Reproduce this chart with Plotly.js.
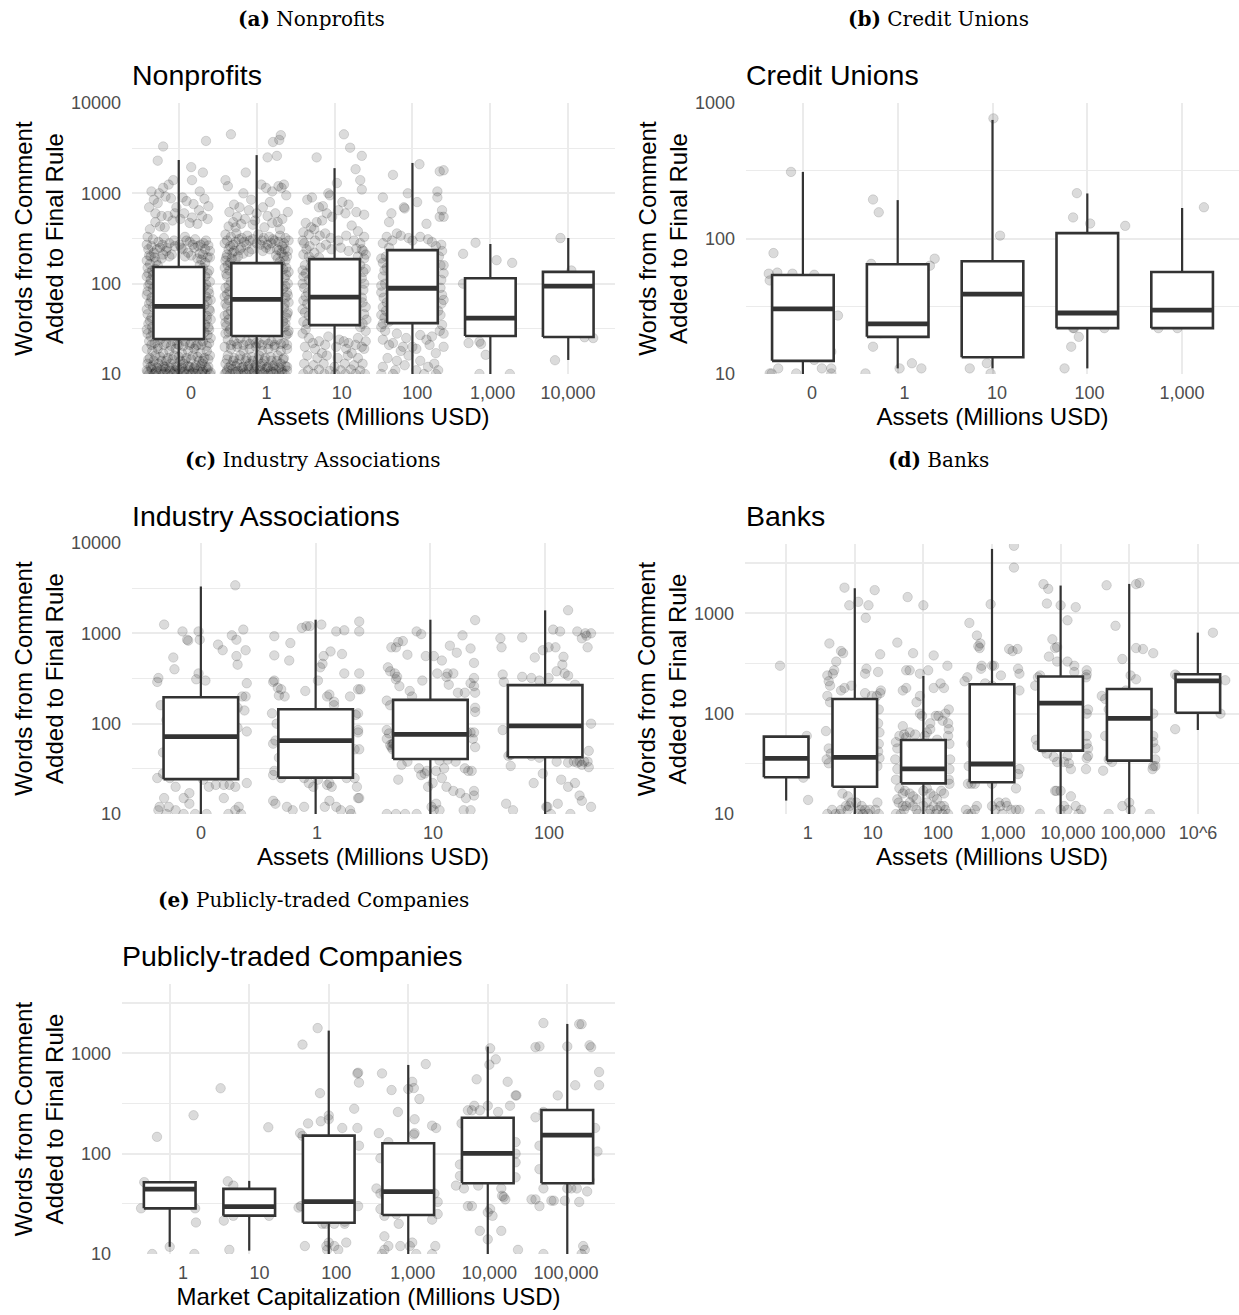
<!DOCTYPE html>
<html><head><meta charset="utf-8">
<script src="https://cdn.plot.ly/plotly-3.0.1.min.js"></script>
<style>html,body{margin:0;padding:0;background:#fff}#chart{width:1239px;height:1315px}</style>
</head><body><div id="chart"></div>
<script>
// ---------------- (a) Nonprofits ----------------
const npCategories = ['0','1','10','100','1,000','10,000'];
const npQ1     = [24.3, 26.3, 34.8, 36.6, 26.3, 25.7];
const npMedian = [56, 67, 71, 89, 41.5, 94];
const npQ3     = [153, 169, 187, 235, 115, 135];
const npLower  = [10, 10, 10, 10, 10, 14.3];
const npUpper  = [2340, 2650, 1900, 2170, 275, 320];
const npPoints0 = [[-0.20,3300],[0.35,3800],[-0.27,2300],[0.16,1950],[0.31,1700],[0.17,1400],[0.27,1050],[-0.07,1400],[-0.13,1250],[-0.2,1150],[-0.25,1000],[-0.35,1050],[-0.32,850],[-0.27,780],[-0.22,560],[-0.3,600],[-0.17,920],[-0.1,880],[-0.03,700],[0.05,900],[0.1,820],[0.19,760],[0.26,650],[0.33,870],[0.37,520],[0.24,460],[0.14,470],[0.02,520],[-0.05,600],[-0.18,420],[-0.37,400],[-0.4,330],[-0.33,310],[-0.26,290],[-0.19,320],[-0.12,280],[-0.06,300],[0.01,270],[0.08,330],[0.14,290],[0.21,310],[0.28,270],[0.35,300],[0.4,230],[-0.39,240],[-0.32,220],[-0.24,250],[-0.16,230],[-0.09,210],[0.05,240],[0.12,220],[0.2,250],[0.27,215],[0.34,240],[-0.41,180],[-0.36,200],[-0.29,175],[-0.22,190],[0.29,185],[0.37,195],[-0.4,150],[-0.34,140],[-0.27,160],[0.31,150],[0.39,140],[-0.41,120],[-0.36,110],[0.34,120],[0.4,105],[-0.39,95],[-0.33,88],[0.32,92],[0.38,85],[-0.41,75],[-0.35,70],[0.35,72],[0.41,66],[-0.38,60],[-0.33,55],[0.33,58],[0.39,52],[-0.4,46],[-0.35,42],[0.36,44],[0.41,40],[-0.39,36],[-0.34,33],[0.34,35],[0.39,31],[-0.4,28],[-0.36,26],[0.37,27],[0.41,25],[-0.38,23],[-0.31,22],[-0.24,24],[-0.16,22],[-0.08,23],[0.0,21],[0.08,23],[0.16,22],[0.24,21],[0.31,23],[0.39,22],[-0.41,19],[-0.34,18],[-0.27,19],[-0.2,17],[-0.12,18],[-0.04,19],[0.04,17],[0.12,18],[0.2,19],[0.28,17],[0.36,18],[-0.37,15],[-0.3,16],[-0.22,14],[-0.14,15],[-0.06,16],[0.02,14],[0.1,15],[0.18,16],[0.26,14],[0.33,15],[0.4,16],[-0.4,13],[-0.33,12.5],[-0.26,13],[-0.18,12],[-0.1,13],[-0.02,12],[0.06,13],[0.14,12],[0.22,12.5],[0.3,13],[0.38,12],[-0.41,11],[-0.35,11.2],[-0.29,10.8],[-0.23,11],[-0.17,11.3],[-0.11,10.9],[-0.05,11],[0.01,11.2],[0.07,10.8],[0.13,11],[0.19,11.3],[0.25,10.9],[0.31,11],[0.37,11.2],[-0.38,10],[-0.32,10],[-0.26,10],[-0.2,10],[-0.14,10],[-0.08,10],[-0.02,10],[0.04,10],[0.1,10],[0.16,10],[0.22,10],[0.28,10],[0.34,10],[0.4,10],
  [-0.38,700],[-0.3,480],[-0.24,430],[-0.14,560],[-0.08,500],[0.07,600],[0.17,540],[0.3,560],[0.38,720],[-0.41,270],[-0.35,260],[-0.28,240],[-0.21,270],[-0.15,250],[-0.05,260],[0.03,250],[0.1,300],[0.18,270],[0.25,260],[0.32,280],[0.38,265],[-0.38,205],[-0.31,195],[-0.2,210],[-0.12,200],[0.08,200],[0.16,205],[0.24,190],[0.31,210],[0.4,195],[-0.37,165],[-0.3,145],[0.27,160],[0.34,170],[-0.39,130],[-0.33,125],[0.37,130],[-0.37,100],[0.35,98],[-0.4,82],[0.39,78],[-0.36,64],[0.37,64],[-0.41,52],[0.4,50],[-0.37,39],[0.36,40],[-0.41,31],[0.38,33],[-0.33,29],[0.33,29],[-0.35,21],[-0.27,20.5],[-0.19,21],[-0.1,20.5],[-0.02,21.5],[0.06,20.5],[0.14,21],[0.22,20.5],[0.29,21],[0.36,20.5],[-0.39,14.5],[-0.32,14],[-0.24,15.5],[-0.16,14],[-0.08,14.5],[0.0,15.5],[0.08,14],[0.16,14.5],[0.24,15.5],[0.31,14],[0.38,14.5],[-0.36,12],[-0.28,11.8],[-0.2,12.2],[-0.12,11.8],[-0.04,12.2],[0.04,11.8],[0.12,12.2],[0.2,11.8],[0.28,12.2],[0.35,11.8],[-0.4,10.5],[-0.3,10.4],[-0.18,10.5],[-0.06,10.4],[0.06,10.5],[0.18,10.4],[0.3,10.5],[0.41,10.4]];
const npPoints1 = [[-0.33,4500],[0.21,3700],[0.31,4400],[0.29,3900],[0.26,2600],[0.14,2500],[-0.14,1700],[-0.4,1400],[-0.37,1200],[0.06,1250],[0.12,1150],[0.28,1200],[0.35,1250],[0.32,1150],[-0.17,1000],[0.2,1050],[0.17,800],[-0.07,850],[-0.29,750],[-0.22,700],[-0.25,550],[-0.1,650],[0.0,600],[0.08,700],[0.24,600],[0.38,950],[0.33,520],[-0.36,430],[-0.3,480],[-0.2,460],[-0.05,450],[0.1,420],[0.2,470],[0.3,400],[-0.4,350],[-0.33,330],[-0.26,360],[-0.19,320],[-0.12,340],[-0.05,310],[0.02,350],[0.09,320],[0.16,330],[0.23,300],[0.3,340],[0.37,320],[-0.41,280],[-0.34,260],[-0.27,290],[-0.2,250],[-0.13,270],[-0.06,240],[0.05,270],[0.12,250],[0.19,280],[0.26,240],[0.33,260],[0.4,230],[-0.38,210],[-0.31,220],[-0.24,200],[-0.17,215],[0.25,205],[0.32,220],[0.39,200],[-0.4,180],[-0.34,170],[-0.27,185],[0.3,175],[0.37,180],[-0.41,150],[-0.35,140],[0.34,145],[0.41,135],[-0.38,120],[-0.33,105],[0.36,115],[0.4,100],[-0.4,90],[-0.35,82],[0.34,88],[0.39,80],[-0.41,72],[-0.36,66],[0.37,70],[0.41,62],[-0.38,56],[-0.33,50],[0.35,54],[0.4,48],[-0.41,44],[-0.36,40],[0.38,42],[0.34,38],[-0.39,34],[-0.34,31],[0.36,33],[0.41,30],[-0.4,28],[0.38,27],[-0.37,24],[-0.29,23],[-0.21,25],[-0.13,23],[-0.05,24],[0.03,22],[0.11,24],[0.19,23],[0.27,24],[0.35,22],[-0.41,20],[-0.33,19],[-0.25,20],[-0.17,18],[-0.09,19],[-0.01,20],[0.07,18],[0.15,19],[0.23,20],[0.31,18],[0.39,19],[-0.37,16],[-0.29,15],[-0.21,16],[-0.13,15],[-0.05,14],[0.03,16],[0.11,15],[0.19,14],[0.27,16],[0.35,15],[-0.4,13],[-0.33,12.5],[-0.25,13],[-0.17,12],[-0.09,13],[-0.01,12.5],[0.07,13],[0.15,12],[0.23,12.5],[0.31,13],[0.39,12],[-0.38,11],[-0.31,11.3],[-0.24,10.8],[-0.17,11],[-0.1,11.2],[-0.03,10.9],[0.04,11],[0.11,11.3],[0.18,10.8],[0.25,11],[0.32,11.2],[0.39,10.9],[-0.41,10],[-0.34,10],[-0.27,10],[-0.2,10],[-0.13,10],[-0.06,10],[0.01,10],[0.08,10],[0.15,10],[0.22,10],[0.29,10],[0.36,10],
  [-0.35,620],[-0.27,420],[-0.15,520],[-0.02,500],[0.14,560],[0.27,480],[0.4,620],[-0.38,300],[-0.3,270],[-0.23,310],[-0.16,290],[-0.09,300],[0.0,280],[0.07,300],[0.14,270],[0.21,310],[0.28,290],[0.35,280],[0.41,300],[-0.36,240],[-0.29,230],[-0.22,235],[-0.1,225],[0.08,230],[0.17,240],[0.29,235],[0.36,240],[-0.39,195],[-0.32,190],[0.27,190],[0.35,200],[-0.37,160],[-0.3,155],[0.31,160],[0.38,150],[-0.39,128],[0.38,125],[-0.36,95],[0.37,94],[-0.38,76],[0.4,74],[-0.4,60],[0.36,60],[-0.37,46],[0.39,46],[-0.4,37],[0.37,36],[-0.36,29],[0.4,28],[-0.33,21],[-0.25,21.5],[-0.17,21],[-0.09,21.5],[-0.01,22],[0.07,21],[0.15,21.5],[0.23,21],[0.31,21.5],[0.39,21],[-0.38,14.5],[-0.3,14],[-0.22,14.5],[-0.14,14],[-0.06,15.5],[0.02,14.5],[0.1,14],[0.18,15.5],[0.26,14],[0.34,14.5],[-0.36,11.8],[-0.27,12.2],[-0.19,11.8],[-0.11,12.2],[-0.03,11.8],[0.05,12.2],[0.13,11.8],[0.21,12.2],[0.29,11.8],[0.37,12.2],[-0.39,10.4],[-0.27,10.5],[-0.15,10.4],[-0.03,10.5],[0.09,10.4],[0.21,10.5],[0.33,10.4]];
const npPoints2 = [[0.12,4500],[0.2,3200],[-0.23,2500],[0.35,2600],[0.27,1850],[0.03,1300],[0.33,1400],[0.35,1100],[-0.06,950],[-0.08,1000],[-0.35,850],[-0.29,900],[-0.2,700],[-0.15,720],[0.1,800],[0.18,750],[0.28,620],[0.38,580],[0.14,600],[-0.1,600],[-0.03,550],[0.05,650],[-0.37,470],[-0.3,420],[-0.23,480],[-0.16,500],[0.22,440],[0.3,380],[0.38,330],[-0.4,370],[-0.33,350],[-0.26,400],[-0.19,340],[-0.12,360],[-0.05,320],[0.05,300],[0.15,340],[0.25,300],[0.33,280],[-0.39,280],[-0.32,260],[-0.25,300],[-0.18,250],[-0.11,270],[-0.04,240],[0.08,250],[0.18,230],[0.28,245],[0.37,230],[-0.4,210],[-0.33,200],[-0.26,220],[-0.2,195],[0.3,200],[0.38,190],[-0.38,160],[-0.31,150],[0.33,160],[0.4,145],[-0.4,120],[-0.33,110],[0.35,115],[-0.39,90],[-0.34,80],[0.37,85],[-0.4,65],[-0.35,60],[0.36,62],[0.4,55],[-0.38,48],[-0.33,44],[0.38,46],[-0.4,38],[0.36,36],[-0.37,31],[0.4,30],[-0.33,25],[-0.2,23],[-0.08,26],[0.06,24],[0.18,22],[0.3,25],[0.4,23],[-0.38,20],[-0.25,19],[-0.12,21],[0.02,20],[0.15,19],[0.27,21],[0.38,19],[-0.35,16],[-0.22,15],[-0.1,16],[0.04,15],[0.17,16],[0.3,15],[-0.39,13],[-0.27,12.5],[-0.14,13],[0.0,12],[0.13,13],[0.25,12.5],[0.36,13],[-0.34,11],[-0.2,11.2],[-0.06,10.8],[0.08,11],[0.21,11.2],[0.33,10.9],[-0.4,10],[-0.27,10],[-0.13,10],[0.01,10],[0.14,10],[0.27,10],[0.39,10],
  [-0.41,300],[-0.36,240],[-0.3,180],[0.35,240],[0.4,210],[-0.41,140],[-0.37,130],[0.37,135],[-0.41,100],[-0.37,72],[0.38,100],[0.35,70],[-0.41,52],[0.41,40],[-0.35,36],[0.33,33],[-0.41,28],[-0.28,22],[0.12,23],[0.35,20],[-0.16,17],[0.22,17]];
const npPoints3 = [[0.09,2100],[-0.25,1600],[0.35,1750],[0.4,1800],[-0.06,1000],[0.32,1050],[-0.38,900],[0.32,900],[0.06,800],[-0.11,700],[-0.1,680],[-0.27,600],[0.35,550],[0.38,650],[0.4,550],[-0.3,480],[0.18,460],[-0.2,360],[-0.15,340],[-0.05,320],[0.0,300],[0.1,330],[0.2,310],[0.25,290],[-0.38,280],[-0.3,250],[-0.34,200],[0.37,270],[0.38,230],[-0.38,170],[-0.36,140],[0.36,160],[0.4,130],[-0.38,120],[-0.35,100],[0.37,110],[-0.4,80],[-0.37,70],[0.38,75],[-0.38,55],[0.37,60],[-0.4,45],[-0.36,42],[0.36,45],[-0.38,36],[-0.3,38],[0.38,35],[-0.35,30],[0.4,28],[-0.2,28],[-0.38,24],[-0.08,25],[0.1,27],[0.25,26],[-0.25,22],[0.0,20],[0.22,21],[-0.15,18],[0.05,19],[0.3,17],[0.4,20],[-0.32,15],[-0.2,14],[-0.05,16],[0.1,14],[0.28,13],[-0.38,12],[-0.22,11],[-0.1,12.5],[0.05,11],[0.2,12],[0.33,11],[-0.4,10],[-0.25,10],[0.15,10],[0.3,10],
  [-0.33,330],[-0.26,300],[0.3,260],[-0.4,190],[0.34,200],[-0.33,150],[0.4,160],[-0.4,95],[0.36,90],[-0.33,62],[0.4,66],[-0.34,50],[0.33,50],[-0.4,33],[0.35,30],[-0.3,21],[0.18,24],[-0.12,20]];
const npPoints4 = [[-0.19,284],[-0.35,214],[0.08,182],[0.28,170],[-0.35,100],[-0.14,22.8],[-0.12,21.5],[-0.28,22],[-0.06,16.3],[-0.14,10],[0.25,10]];
const npPoints5 = [[-0.1,320],[0.04,140],[0.21,25.5],[0.32,25],[-0.17,14.2]];

// ---------------- (b) Credit Unions ----------------
const cuCategories = ['0','1','10','100','1,000'];
const cuQ1     = [12.5, 18.8, 13.3, 21.8, 21.8];
const cuMedian = [30.2, 23.4, 38.9, 28.2, 29.6];
const cuQ3     = [53.8, 64.6, 68, 109.6, 56.6];
const cuLower  = [10, 11, 11, 11, 21.8];
const cuUpper  = [310, 192, 750, 215, 168];
const cuPoints0 = [[-0.125,310],[-0.31,78],[-0.36,55],[-0.27,56],[-0.11,55],[0.12,54],[-0.35,49],[0.37,27],[0.21,14.6],[0.3,14.6],[0.12,12.7],[-0.26,11],[0.2,11],[0.3,11],[-0.35,10.1],[-0.07,10.1],[0.3,10.1],[-0.33,10.1]];
const cuPoints1 = [[-0.26,194],[-0.2,156],[-0.28,65],[0.34,63],[0.39,71],[-0.26,15.9],[-0.18,20],[0.02,11],[0.15,12],[0.25,11],[-0.34,10.1]];
const cuPoints2 = [[0.01,770],[0.08,105],[-0.24,11],[-0.06,12],[-0.02,10.1]];
const cuPoints3 = [[-0.11,216],[-0.15,143],[0.03,129],[0.4,124],[-0.15,21.8],[-0.14,21.8],[0.18,21.8],[-0.09,18.8],[-0.17,15.9],[-0.24,11]];
const cuPoints4 = [[0.23,170],[-0.25,21.8],[-0.05,21.8]];

// ---------------- (c) Industry Associations ----------------
const iaCategories = ['0','1','10','100'];
const iaQ1     = [24.3, 25.3, 40.7, 42.5];
const iaMedian = [72, 65, 76, 94.6];
const iaQ3     = [196, 144.6, 183.5, 267];
const iaLower  = [10, 10, 10, 10];
const iaUpper  = [3300, 1415, 1415, 1795];
const iaPoints0 = [[0.3,3400],[-0.32,1250],[-0.24,540],[-0.23,400],[-0.16,1050],[-0.12,850],[-0.11,830],[-0.02,1050],[-0.01,850],[0.15,750],[0.19,650],[0.27,950],[0.31,850],[0.31,560],[0.32,450],[0.37,1100],[0.39,650],[-0.37,320],[-0.38,290],[-0.02,360],[-0.04,310],[0.04,300],[0.4,280],[0.36,200],[0.39,200],[-0.35,160],[0.32,150],[0.38,140],[-0.28,130],[-0.3,110],[0.4,82],[0.32,90],[-0.33,48],[-0.28,30],[-0.33,28],[-0.38,25],[-0.27,25],[0.02,24],[-0.22,20],[0.07,20],[0.13,21],[0.2,21],[0.25,21],[0.3,20],[0.4,22],[-0.1,17],[-0.15,15],[-0.1,13],[-0.32,15],[-0.28,12],[0.2,15],[-0.37,11],[-0.36,12],[-0.22,11],[-0.15,10],[-0.05,10],[0.05,10],[0.3,11],[0.33,12],[0.35,10],[0.24,10],[-0.3,10]];
const iaPoints1 = [[-0.36,930],[-0.36,570],[-0.22,780],[-0.23,500],[-0.12,1150],[-0.08,1200],[-0.05,1200],[0.05,1250],[0.18,1050],[0.25,1080],[0.38,1350],[0.38,1050],[0.23,590],[0.13,630],[0.07,560],[0.06,460],[0.04,420],[0.02,300],[0.25,360],[0.38,360],[-0.37,290],[-0.36,300],[-0.33,250],[-0.3,240],[-0.27,200],[-0.32,205],[-0.09,230],[0.1,200],[0.12,210],[0.3,200],[0.37,240],[0.39,240],[-0.38,130],[-0.34,100],[0.16,160],[0.16,175],[0.35,125],[0.37,130],[0.37,80],[0.37,85],[0.34,52],[0.38,52],[-0.35,65],[-0.37,60],[-0.32,42],[-0.36,30],[-0.37,27],[-0.3,25],[-0.1,25],[-0.06,22],[-0.02,20],[0.02,24],[0.1,21],[0.12,22],[0.14,20],[0.27,25],[0.34,25],[0.36,20],[-0.37,14],[-0.35,13],[-0.25,12],[-0.2,11],[-0.1,12],[0.08,12],[0.12,14],[0.18,12],[0.22,11],[0.3,11],[0.37,15],[0.38,15],[0.31,10]];
const iaPoints2 = [[-0.34,700],[-0.3,700],[-0.28,800],[-0.24,820],[-0.2,580],[-0.12,1050],[-0.08,980],[-0.04,560],[0.03,560],[0.1,500],[0.17,730],[0.23,610],[0.28,950],[0.39,1400],[0.35,680],[0.38,470],[-0.37,420],[-0.35,380],[-0.3,310],[-0.29,330],[-0.31,360],[-0.27,260],[-0.18,230],[-0.16,200],[-0.07,300],[0.06,360],[0.14,330],[0.15,360],[0.16,270],[0.2,360],[0.24,220],[0.3,220],[0.35,280],[0.38,320],[0.38,260],[0.39,220],[0.39,150],[0.39,135],[-0.38,180],[-0.35,160],[-0.38,85],[-0.36,78],[-0.38,68],[-0.33,60],[-0.34,55],[-0.32,60],[-0.33,52],[-0.35,58],[-0.3,78],[0.32,80],[0.35,80],[0.38,80],[0.37,68],[0.39,55],[-0.25,35],[-0.2,38],[-0.1,32],[-0.05,28],[-0.03,30],[0.05,30],[0.08,39],[0.12,32],[0.15,40],[0.22,38],[0.3,32],[0.33,30],[0.36,30],[-0.28,24],[-0.08,27],[-0.02,20],[0.02,22],[0.1,25],[0.14,20],[0.2,18],[0.26,17],[0.31,15],[0.38,16],[0.38,18],[0.05,13],[0.01,12],[0.03,11],[0.08,11],[-0.12,10],[0.35,11],[0.29,11],[-0.22,10],[-0.3,10],[-0.38,10]];
const iaPoints3 = [[-0.39,880],[-0.38,700],[-0.2,900],[-0.09,540],[-0.02,650],[0.07,1100],[0.03,700],[0.09,700],[0.15,450],[0.37,700],[0.32,880],[0.36,940],[0.13,1050],[0.28,1050],[0.35,1000],[0.4,1000],[0.2,1800],[0.16,550],[-0.37,350],[-0.36,290],[-0.2,330],[-0.12,320],[-0.05,300],[0.03,320],[0.1,380],[0.17,360],[0.2,340],[0.26,270],[-0.37,85],[0.4,100],[0.38,50],[0.15,50],[-0.32,44],[-0.3,45],[-0.3,34],[-0.12,44],[-0.05,42],[0.1,38],[0.2,37],[0.25,38],[0.28,37],[0.3,38],[0.32,35],[0.34,38],[0.37,38],[0.38,33],[-0.1,22],[-0.02,28],[0.14,24],[0.2,20],[0.26,22],[0.3,16],[0.32,14],[0.11,13],[-0.34,13],[-0.28,11],[0.01,12],[0.02,12],[0.22,10],[0.4,12],[0.05,10]];

// ---------------- (d) Banks ----------------
const bkCategories = ['1','10','100','1,000','10,000','100,000','10^6'];
const bkQ1     = [23.2, 18.7, 20.2, 20.7, 42.8, 34, 102];
const bkMedian = [35.9, 36.7, 28.1, 31.5, 127, 89.8, 212];
const bkQ3     = [59, 140, 54.7, 196, 234, 176, 247];
const bkLower  = [13.6, 10, 10, 10, 10, 10, 68.7];
const bkUpper  = [59, 1775, 237, 4375, 1888, 1960, 641];
const bkPoints0 = [[-0.09,300],[0.3,60],[0.25,23],[0.32,13.8]];
const bkPoints1 = [[-0.15,1800],[0.05,1300],[-0.08,1200],[0.2,1200],[0.16,900],[0.29,1700],[-0.37,500],[-0.2,420],[-0.17,400],[-0.27,330],[0.37,390],[0.17,280],[0.15,250],[0.34,260],[-0.4,240],[-0.38,210],[-0.32,250],[-0.36,190],[-0.3,270],[-0.2,170],[-0.15,180],[-0.05,190],[0.15,160],[0.25,150],[0.32,150],[0.37,160],[0.38,170],[-0.4,150],[-0.36,130],[0.35,110],[0.34,80],[0.36,65],[0.35,50],[0.34,42],[0.36,36],[0.33,30],[-0.42,67],[-0.38,45],[-0.41,35],[-0.38,32],[-0.35,40],[-0.18,16],[-0.1,15],[-0.05,13],[-0.08,12],[-0.13,12],[0.02,13],[0.1,12],[0.15,11],[0.33,13],[0.3,11],[-0.4,10],[-0.33,11],[-0.28,10],[-0.2,11],[-0.22,10],[-0.1,11],[0.05,10],[0.08,11],[0.2,10],[0.22,11],[0.35,10],[0.12,10]];
const bkPoints2 = [[-0.23,1450],[0.0,1200],[-0.38,510],[-0.15,400],[0.15,380],[0.35,300],[-0.25,270],[-0.2,270],[-0.05,250],[-0.25,180],[-0.3,170],[-0.05,150],[-0.1,130],[0.07,270],[0.15,180],[0.25,200],[0.3,180],[0.37,110],[0.32,100],[0.18,95],[0.22,95],[-0.05,100],[-0.02,95],[0.1,80],[0.28,85],[0.36,80],[0.37,70],[0.36,60],[0.38,50],[0.39,35],[0.38,28],[0.37,22],[0.38,20],[-0.35,60],[-0.4,52],[-0.38,45],[-0.41,35],[-0.38,28],[-0.4,22],[-0.35,18],[-0.38,14],[-0.3,75],[-0.28,62],[-0.25,58],[-0.2,65],[-0.18,50],[-0.15,45],[-0.12,62],[0.02,60],[0.05,65],[0.1,70],[0.1,45],[0.13,40],[0.2,55],[0.25,48],[-0.3,16],[-0.27,17],[-0.2,16],[-0.15,15],[-0.1,14],[0.0,17],[0.05,18],[0.1,16],[0.15,15],[0.2,14],[0.26,17],[0.3,16],[-0.36,13],[-0.3,12],[-0.25,12],[-0.2,13],[-0.15,12],[-0.1,11],[0.0,12],[0.05,13],[0.1,11],[0.15,12],[0.2,11],[0.25,12],[0.3,12],[0.32,11],[-0.4,10],[-0.33,10],[-0.28,11],[-0.08,10],[0.08,10],[0.18,10],[0.28,10],[0.36,10]];
const bkPoints3 = [[-0.33,800],[-0.22,600],[-0.2,470],[-0.18,450],[-0.17,500],[-0.15,300],[-0.16,280],[0.0,300],[0.03,300],[-0.02,1230],[0.13,240],[0.25,440],[0.3,420],[0.37,440],[0.32,2850],[0.32,4700],[0.38,280],[0.4,250],[-0.4,210],[-0.36,230],[-0.1,200],[0.0,190],[0.1,170],[0.4,170],[-0.3,50],[-0.34,30],[0.4,28],[0.38,25],[0.35,18],[-0.35,20],[-0.3,20],[-0.25,20],[0.0,20],[-0.38,11],[-0.35,10],[-0.3,10],[-0.25,11],[-0.22,12],[0.0,12],[0.05,11],[0.1,13],[0.12,12],[0.2,13],[0.22,12],[0.28,11],[0.35,11],[0.4,11],[0.15,10]];
const bkPoints4 = [[-0.25,1950],[-0.18,1750],[-0.2,1250],[0.0,1200],[0.22,1150],[0.1,850],[-0.12,550],[-0.08,450],[-0.05,460],[-0.17,370],[-0.05,330],[0.1,330],[0.2,300],[0.2,260],[0.38,270],[0.38,245],[0.37,230],[-0.33,230],[-0.37,190],[-0.3,240],[0.4,110],[0.38,100],[0.38,60],[0.38,50],[0.4,45],[0.4,38],[0.38,36],[0.37,28],[-0.36,55],[-0.34,48],[-0.25,45],[-0.2,40],[-0.1,37],[0.1,38],[0.05,33],[0.12,32],[0.15,28],[-0.05,33],[-0.08,17],[0.0,17],[0.05,12],[0.1,11],[0.15,15],[0.22,12],[0.3,11],[-0.06,17],[0.0,11],[-0.3,10],[0.26,10]];
const bkPoints5 = [[-0.33,1900],[0.1,1950],[0.15,2000],[-0.2,750],[0.1,450],[0.2,440],[0.35,400],[-0.1,350],[0.02,240],[0.1,220],[-0.4,150],[-0.35,140],[-0.05,170],[-0.3,110],[0.35,100],[-0.35,60],[0.35,60],[0.35,52],[0.38,45],[0.38,35],[0.35,30],[0.34,28],[0.38,30],[-0.3,35],[-0.25,33],[-0.38,27],[0.0,13],[-0.3,10],[-0.1,12],[0.02,11],[0.3,10]];
const bkPoints6 = [[-0.33,245],[-0.3,235],[-0.33,70],[0.22,640],[0.4,215],[0.33,100],[0.28,205]];

// ---------------- (e) Publicly-traded Companies ----------------
const ptCategories = ['1','10','100','1,000','10,000','100,000'];
const ptQ1     = [28.5, 24.1, 20.5, 24.5, 50.6, 50.6];
const ptMedian = [44.2, 29.6, 33.3, 41.8, 100.7, 153];
const ptQ3     = [51.8, 44.5, 151, 127, 228, 272];
const ptLower  = [11.8, 10.8, 10, 10, 10, 10];
const ptUpper  = [51.8, 53.5, 1682, 765, 1165, 1960];
const ptPoints0 = [[-0.16,147],[-0.32,52],[-0.36,28.5],[0,11.8],[0.32,28.5],[0.33,20.6],[-0.22,10],[0.31,10],[0.3,241]];
const ptPoints1 = [[-0.36,448],[0.24,183],[-0.27,53],[-0.2,48],[-0.32,21.5],[-0.2,24],[0.25,24],[-0.25,11]];
const ptPoints2 = [[-0.14,1780],[-0.33,1220],[-0.11,400],[-0.36,160],[-0.26,200],[-0.1,210],[-0.33,150],[0.0,240],[0.0,220],[0.17,180],[0.36,180],[0.32,280],[0.36,630],[0.37,640],[0.38,510],[0.38,120],[-0.35,30],[-0.38,29],[-0.04,20],[-0.08,20],[0.07,20],[0.2,20],[0.2,21],[0.37,30],[-0.3,12],[-0.03,12],[-0.02,11],[0.07,12],[0.12,11],[0.22,13],[0.0,13]];
const ptPoints3 = [[-0.33,630],[-0.21,430],[0.05,520],[0.0,440],[0.07,450],[0.14,350],[0.22,780],[-0.13,260],[0.08,220],[0.3,190],[0.35,180],[0.08,160],[0.07,155],[-0.37,160],[-0.35,90],[-0.25,130],[-0.4,45],[-0.35,40],[-0.3,40],[-0.2,37],[-0.35,28],[0.33,40],[0.37,33],[0.37,25],[0.3,22],[-0.3,24],[-0.12,20],[-0.15,25],[-0.3,15],[-0.3,11],[-0.25,12],[-0.1,12],[0.02,12],[0.05,13],[0.1,10],[0.34,12],[-0.33,10],[0.3,10]];
const ptPoints4 = [[0.03,1120],[0.1,870],[0.02,770],[-0.14,550],[0.25,520],[0.35,380],[0.36,380],[-0.25,270],[-0.2,270],[-0.17,300],[-0.1,270],[0.0,300],[0.13,260],[0.28,300],[-0.33,200],[0.35,130],[0.35,100],[0.35,82],[0.35,58],[-0.4,48],[-0.35,60],[-0.35,78],[-0.3,45],[-0.12,48],[0.17,45],[0.18,38],[0.2,37],[0.22,35],[-0.25,30],[-0.2,30],[0.0,26],[0.03,28],[0.06,24],[-0.1,17],[0.17,17],[0.0,14],[0.38,11]];
const ptPoints5 = [[-0.3,2000],[0.15,1950],[0.18,1950],[-0.4,1150],[-0.35,1170],[0.0,1170],[0.3,1150],[0.28,1200],[0.4,650],[0.4,480],[0.1,480],[-0.12,380],[-0.4,230],[-0.3,260],[-0.35,120],[0.35,180],[0.38,105],[-0.35,70],[-0.4,35],[-0.45,35],[-0.3,45],[-0.2,34],[-0.17,34],[-0.03,34],[0.0,45],[0.05,45],[0.12,45],[0.15,33],[0.25,42],[0.28,55],[-0.35,30],[0.2,12],[0.22,11],[-0.3,10],[0.18,10]];

const yTicksWide = [10, 100, 1000, 10000];
const yTicksNarrow = [10, 100, 1000];
const yTitleText = 'Words from Comment<br>Added to Final Rule';

// ---------------- layout configuration (pixels) ----------------
const W = 1239, H = 1315;
const panels = [
  {cats: npCategories, q1: npQ1, med: npMedian, q3: npQ3, lo: npLower, hi: npUpper,
   pts: [npPoints0, npPoints1, npPoints2, npPoints3, npPoints4, npPoints5],
   xPx: [132, 615], yPx: [103, 374], yRange: [1, 4], yTicks: yTicksWide, labRange: [-0.782, 5.623],
   xTitle: 'Assets (Millions USD)', title: 'Nonprofits', titleX: 130, titleY: 75,
   caption: '<b>(a)</b> Nonprofits', capX: 311, capY: 19},
  {cats: cuCategories, q1: cuQ1, med: cuMedian, q3: cuQ3, lo: cuLower, hi: cuUpper,
   pts: [cuPoints0, cuPoints1, cuPoints2, cuPoints3, cuPoints4],
   xPx: [746, 1239], yPx: [103, 374], yRange: [1, 3], yTicks: yTicksNarrow, labRange: [-0.714, 4.616],
   xTitle: 'Assets (Millions USD)', title: 'Credit Unions', titleX: 744, titleY: 75,
   caption: '<b>(b)</b> Credit Unions', capX: 938, capY: 19},
  {cats: iaCategories, q1: iaQ1, med: iaMedian, q3: iaQ3, lo: iaLower, hi: iaUpper,
   pts: [iaPoints0, iaPoints1, iaPoints2, iaPoints3],
   xPx: [132, 614], yPx: [543, 814], yRange: [1, 4], yTicks: yTicksWide, labRange: [-0.595, 3.56],
   xTitle: 'Assets (Millions USD)', title: 'Industry Associations', titleX: 130, titleY: 516,
   caption: '<b>(c)</b> Industry Associations', capX: 313, capY: 460},
  {cats: bkCategories, q1: bkQ1, med: bkMedian, q3: bkQ3, lo: bkLower, hi: bkUpper,
   pts: [bkPoints0, bkPoints1, bkPoints2, bkPoints3, bkPoints4, bkPoints5, bkPoints6],
   xPx: [745, 1239], yPx: [544, 814], yRange: [1, 3.69], yTicks: yTicksNarrow, labRange: [-0.966, 6.629],
   xTitle: 'Assets (Millions USD)', title: 'Banks', titleX: 744, titleY: 516,
   caption: '<b>(d)</b> Banks', capX: 938, capY: 460},
  {cats: ptCategories, q1: ptQ1, med: ptMedian, q3: ptQ3, lo: ptLower, hi: ptUpper,
   pts: [ptPoints0, ptPoints1, ptPoints2, ptPoints3, ptPoints4, ptPoints5],
   xPx: [122, 615], yPx: [984, 1254], yRange: [1, 3.69], yTicks: yTicksNarrow, labRange: [-0.796, 5.64],
   xTitle: 'Market Capitalization (Millions USD)', title: 'Publicly-traded Companies', titleX: 120, titleY: 956,
   caption: '<b>(e)</b> Publicly-traded Companies', capX: 313, capY: 900}
];

const GRID = '#EBEBEB';
const INK = '#333333';
const BOX_W = 0.65;
const SANS = 'Liberation Sans, Arial, Helvetica, sans-serif';
const SERIF = 'DejaVu Serif, Liberation Serif, serif';

const data = [];
const layout = {
  width: W, height: H, margin: {l: 0, r: 0, t: 0, b: 0},
  paper_bgcolor: '#fff', plot_bgcolor: '#fff', showlegend: false,
  font: {family: SANS, color: '#000'}, annotations: []
};

panels.forEach((p, k) => {
  const n = p.cats.length;
  const xs = 'x' + (k + 1), ys = 'y' + (k + 1);
  const xl = 'x' + (k + 6);
  const idx = p.cats.map((_, i) => i);
  // jittered points
  const px = [], py = [];
  p.pts.forEach((arr, i) => arr.forEach(pt => { px.push(i + pt[0]); py.push(pt[1]); }));
  data.push({type: 'scatter', mode: 'markers', x: px, y: py, xaxis: xs, yaxis: ys,
    marker: {size: 9.5, color: 'rgba(0,0,0,0.14)', line: {width: 1, color: 'rgba(0,0,0,0.12)'}}, hoverinfo: 'skip'});
  // whiskers
  const wx = [], wy = [];
  idx.forEach(i => {
    wx.push(i, i, null, i, i, null);
    wy.push(p.q3[i], p.hi[i], null, p.q1[i], p.lo[i], null);
  });
  data.push({type: 'scatter', mode: 'lines', x: wx, y: wy, xaxis: xs, yaxis: ys,
    line: {color: INK, width: 2.2}, hoverinfo: 'skip'});
  // boxes
  const bx = [], by = [];
  idx.forEach(i => {
    const a = i - BOX_W / 2, b = i + BOX_W / 2;
    bx.push(a, b, b, a, a, null);
    by.push(p.q1[i], p.q1[i], p.q3[i], p.q3[i], p.q1[i], null);
  });
  data.push({type: 'scatter', mode: 'lines', x: bx, y: by, xaxis: xs, yaxis: ys,
    fill: 'toself', fillcolor: '#ffffff', line: {color: INK, width: 2.6}, hoverinfo: 'skip'});
  // medians
  const mx = [], my = [];
  idx.forEach(i => { mx.push(i - BOX_W / 2, i + BOX_W / 2, null); my.push(p.med[i], p.med[i], null); });
  data.push({type: 'scatter', mode: 'lines', x: mx, y: my, xaxis: xs, yaxis: ys,
    line: {color: INK, width: 4.8}, hoverinfo: 'skip'});

  const xDom = [p.xPx[0] / W, p.xPx[1] / W];
  const yDom = [1 - p.yPx[1] / H, 1 - p.yPx[0] / H];
  const minor = [];
  for (let e = 1; e < p.yRange[1]; e++) { const v = Math.pow(10, e + 0.5); if (Math.log10(v) < p.yRange[1]) minor.push(v); }

  layout['xaxis' + (k + 1)] = {domain: xDom, anchor: ys, range: [-0.6, n - 0.4],
    tickmode: 'array', tickvals: idx, showticklabels: false, ticks: '',
    showgrid: true, gridcolor: GRID, gridwidth: 2, zeroline: false, showline: false, fixedrange: true};
  layout['xaxis' + (k + 6)] = {domain: xDom, anchor: ys, overlaying: xs, range: p.labRange,
    tickmode: 'array', tickvals: idx, ticktext: p.cats, ticks: '',
    tickfont: {family: SANS, size: 18, color: '#4D4D4D'}, ticklabelstandoff: 6,
    showgrid: false, zeroline: false, showline: false, fixedrange: true,
    title: {text: p.xTitle, font: {family: SANS, size: 24, color: '#000'}, standoff: 2}};
  layout['yaxis' + (k + 1)] = {domain: yDom, anchor: xs, type: 'log', range: p.yRange,
    tickmode: 'array', tickvals: p.yTicks, ticktext: p.yTicks.map(String), ticks: '',
    tickfont: {family: SANS, size: 18, color: '#4D4D4D'}, ticklabelstandoff: 10,
    showgrid: true, gridcolor: GRID, gridwidth: 2, zeroline: false, showline: false, fixedrange: true,
    minor: {tickmode: 'array', tickvals: minor, showgrid: true, gridcolor: GRID, gridwidth: 1.3, ticks: ''},
    title: {text: yTitleText, font: {family: SANS, size: 24, color: '#000'}, standoff: 0}};
  // dummy trace so the label axis is always drawn
  data.push({type: 'scatter', mode: 'markers', x: [null], y: [null], xaxis: xl, yaxis: ys, hoverinfo: 'skip', showlegend: false});

  layout.annotations.push({text: p.title, xref: 'paper', yref: 'paper', x: p.titleX / W, y: 1 - p.titleY / H,
    xanchor: 'left', yanchor: 'middle', showarrow: false, font: {family: SANS, size: 28.5, color: '#000'}});
  layout.annotations.push({text: p.caption, xref: 'paper', yref: 'paper', x: p.capX / W, y: 1 - p.capY / H,
    xanchor: 'center', yanchor: 'middle', showarrow: false, font: {family: SERIF, size: 20, color: '#000'}});
});

Plotly.newPlot('chart', data, layout, {displayModeBar: false, staticPlot: true});
</script></body></html>
